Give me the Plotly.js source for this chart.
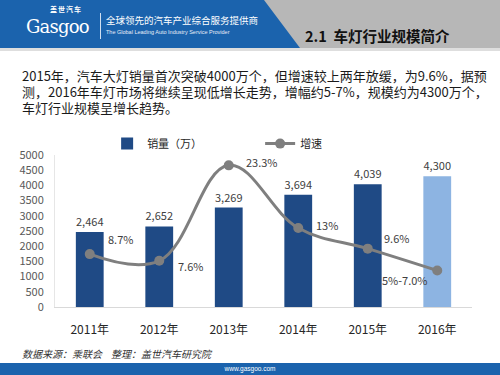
<!DOCTYPE html>
<html><head><meta charset="utf-8">
<script src="https://cdn.plot.ly/plotly-3.0.1.min.js"></script>
<style>
html,body{margin:0;padding:0;width:500px;height:375px;overflow:hidden;background:#fff;font-family:"Noto Sans CJK SC","Noto Sans",sans-serif;}
#hdrBlue{position:absolute;left:0;top:0;width:500px;height:48px;background:#b7b7b7;}
#hdrSvg{position:absolute;left:0;top:0;}
#hdrLine{position:absolute;left:0;top:48px;width:500px;height:3px;background:#dedede;}
#logo{position:absolute;left:26px;top:18px;color:#fff;font-family:"DejaVu Serif",serif;font-size:18px;line-height:18px;letter-spacing:-0.8px;}
#logoCn{position:absolute;left:50px;top:5px;color:#fff;font-size:7px;line-height:9px;font-weight:bold;letter-spacing:1px;}
#divider{position:absolute;left:100px;top:13px;width:1px;height:26px;background:#d0dff0;}
#slogan{position:absolute;left:106px;top:15px;color:#fff;font-size:9.5px;line-height:11px;}
#sloganEn{position:absolute;left:106px;top:29px;color:#e8eef8;font-size:5.5px;line-height:7px;font-family:"Liberation Sans",sans-serif;}
#title{position:absolute;left:305px;top:27px;color:#111;font-size:14.5px;font-weight:bold;line-height:18px;white-space:nowrap;}
#para{position:absolute;left:22px;top:68px;width:470px;color:#1a1a1a;font-size:13px;line-height:16px;}
#source{position:absolute;left:22px;top:346px;color:#333;font-size:10px;font-style:italic;white-space:pre;}
#footer{position:absolute;left:0;top:363px;width:500px;height:12px;background:#1b63ad;color:#fff;font-size:6.5px;line-height:12px;text-align:center;font-family:"Liberation Sans",sans-serif;}
#chart{position:absolute;left:0;top:0;width:500px;height:375px;}
</style></head>
<body>
<div id="hdrBlue"></div>
<svg id="hdrSvg" width="500" height="48"><polygon points="0,0 264,0 300,48 0,48" fill="#1b63ad"/></svg>
<div id="hdrLine"></div>
<div id="logoCn">盖世汽车</div>
<div id="logo">Gasgoo</div>
<div id="divider"></div>
<div id="slogan">全球领先的汽车产业综合服务提供商</div>
<div id="sloganEn">The Global Leading Auto Industry Service Provider</div>
<div id="title">2.1&nbsp;&nbsp;车灯行业规模简介</div>
<div id="para">2015年，汽车大灯销量首次突破4000万个，但增速较上两年放缓，为9.6%，据预测，2016年车灯市场将继续呈现低增长走势，增幅约5-7%，规模约为4300万个，车灯行业规模呈增长趋势。</div>
<div id="source">数据来源：乘联会    整理：盖世汽车研究院</div>
<div id="footer">www.gasgoo.com</div>
<div id="chart"></div>
<script>
// ---- data ----
const years = ["2011年", "2012年", "2013年", "2014年", "2015年", "2016年"];
const sales = [2464, 2652, 3269, 3694, 4039, 4300];
const growth = [8.7, 7.6, 23.3, 13, 9.6, 6.0];
const growthLabels = ["8.7%", "7.6%", "23.3%", "13%", "9.6%", "5%-7.0%"];
const salesName = "销量（万）";
const growthName = "增速";
const yTicks = [0, 500, 1000, 1500, 2000, 2500, 3000, 3500, 4000, 4500, 5000];

// ---- styles ----
const barColors = ["#1f4a85", "#1f4a85", "#1f4a85", "#1f4a85", "#1f4a85", "#8db4e2"];
const labelShiftX = [31, 31, 33, 29, 29, -33];
const labelShiftY = [15, -5, 3, 3, 11, -9];
const fontFam = "Noto Sans CJK SC, Noto Sans, sans-serif";

const traces = [
  {
    type: "bar", x: years, y: sales, name: salesName,
    marker: {color: barColors},
    text: sales.map(v => v.toLocaleString("en-US")),
    textposition: "outside", cliponaxis: false,
    textfont: {size: 11, color: "#404040", family: fontFam},
    hoverinfo: "skip"
  },
  {
    type: "scatter", mode: "lines+markers", x: years, y: growth, yaxis: "y2", name: growthName,
    line: {color: "#7f7f7f", width: 3, shape: "spline", smoothing: 1.1},
    marker: {color: "#7f7f7f", size: 10},
    hoverinfo: "skip"
  }
];

const annotations = growth.map((g, i) => ({
  x: years[i], y: g, xref: "x", yref: "y2",
  text: growthLabels[i], showarrow: false,
  xshift: labelShiftX[i], yshift: labelShiftY[i],
  font: {size: 11, color: "#404040", family: fontFam}
}));

const layout = {
  width: 500, height: 375,
  margin: {l: 55, r: 28, t: 155, b: 68},
  paper_bgcolor: "rgba(0,0,0,0)", plot_bgcolor: "rgba(0,0,0,0)",
  font: {family: fontFam, color: "#595959", size: 11},
  bargap: 0.6,
  showlegend: true,
  legend: {orientation: "h", x: 0.125, xanchor: "left", y: 1.075, yanchor: "middle",
           entrywidth: 108, entrywidthmode: "pixels",
           font: {size: 11, color: "#262626", family: fontFam}, bgcolor: "rgba(0,0,0,0)"},
  xaxis: {type: "category", showline: true, linecolor: "#d9d9d9", linewidth: 1,
          ticks: "", ticklabelstandoff: 12, tickfont: {size: 12, color: "#262626"},
          fixedrange: true},
  yaxis: {range: [0, 5000], tickvals: yTicks, showgrid: false, zeroline: false,
          showline: true, linecolor: "#e6e6e6", linewidth: 1, ticks: "",
          ticklabelstandoff: 8, tickfont: {size: 11, color: "#595959"}, fixedrange: true},
  yaxis2: {range: [0, 25], overlaying: "y", side: "right", visible: false, fixedrange: true},
  annotations: annotations
};

Plotly.newPlot("chart", traces, layout, {displayModeBar: false, staticPlot: true});
</script>
</body></html>
